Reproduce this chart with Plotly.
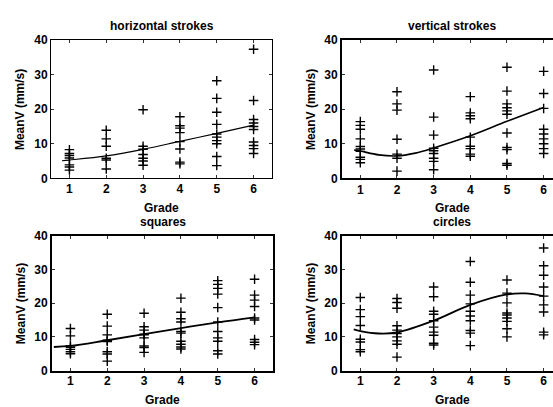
import plotly.graph_objects as go

W, H = 553, 407
grades = [1, 2, 3, 4, 5, 6]
grade_ticks = ["1", "2", "3", "4", "5", "6"]
y_ticks = [0, 10, 20, 30, 40]

horizontal_vals = [
    [8.3, 7.2, 6.6, 5.9, 3.9, 3.3, 2.4],
    [13.9, 11.4, 9.3, 5.8, 5.3, 2.7],
    [19.8, 9.3, 8.4, 6.9, 5.8, 5.0, 3.8],
    [17.8, 15.2, 14.5, 13.2, 10.6, 8.5, 4.7, 4.2],
    [28.2, 23.1, 19.1, 15.6, 12.8, 11.9, 10.9, 10.0, 6.3, 3.7],
    [37.3, 22.5, 17.0, 16.0, 15.0, 14.1, 10.5, 9.5, 8.6, 7.2],
]
vertical_vals = [
    [16.4, 15.3, 14.2, 11.4, 9.2, 8.5, 7.8, 6.1, 5.5, 4.5],
    [25.0, 21.5, 19.7, 11.3, 7.0, 5.8, 2.1],
    [31.3, 17.7, 12.5, 8.7, 8.0, 7.2, 5.8, 4.9, 2.5],
    [23.6, 18.9, 18.1, 17.2, 11.9, 9.3, 8.6, 7.0, 6.4],
    [32.1, 25.2, 21.5, 20.4, 19.5, 18.5, 13.1, 8.9, 8.3, 4.3, 3.8],
    [30.9, 24.5, 20.2, 14.2, 12.8, 11.4, 10.0, 8.6, 7.2],
]
squares_vals = [
    [12.5, 10.3, 7.4, 6.9, 6.3, 5.6, 5.0],
    [16.7, 13.2, 10.6, 9.0, 8.6, 5.6, 4.9, 2.8],
    [17.0, 13.0, 12.0, 10.8, 10.6, 9.7, 7.3, 6.8, 5.4],
    [21.5, 17.3, 15.4, 14.4, 11.6, 11.1, 8.7, 7.8, 7.0, 6.4],
    [26.7, 25.6, 24.4, 22.7, 18.7, 14.4, 11.6, 9.7, 8.7, 5.9, 4.9],
    [27.1, 22.4, 20.9, 19.0, 15.6, 15.0, 9.2, 8.4, 7.7],
]
circles_vals = [
    [21.7, 18.1, 16.0, 13.4, 9.3, 8.5, 6.2, 5.6],
    [21.4, 20.2, 18.5, 13.3, 12.0, 11.0, 10.0, 8.8, 7.8, 4.0],
    [24.8, 21.9, 17.6, 16.7, 14.8, 12.9, 11.4, 10.5, 8.1, 7.6],
    [32.4, 26.2, 22.4, 19.8, 17.6, 16.2, 14.8, 11.9, 11.1, 7.4],
    [26.9, 23.0, 20.1, 17.1, 16.5, 15.6, 14.6, 12.4, 10.0],
    [36.4, 31.1, 28.3, 24.8, 22.1, 19.5, 17.4, 11.4, 10.6],
]

# fitted trend curves
horizontal_fit_x = [0.8, 1, 2, 3, 4, 5, 6]
horizontal_fit_y = [5.1, 5.3, 6.5, 8.4, 10.7, 13.0, 15.4]
vertical_fit_x = [0.83, 1, 1.5, 2, 2.5, 3, 4, 5, 6]
vertical_fit_y = [8.2, 7.9, 6.8, 6.5, 7.3, 8.8, 12.3, 16.5, 20.5]
squares_fit_x = [0.55, 1, 2, 3, 4, 5, 6]
squares_fit_y = [7.0, 7.3, 9.0, 10.8, 12.6, 14.3, 15.8]
circles_fit_x = [0.82, 1, 1.5, 2, 3, 4, 5, 5.5, 6]
circles_fit_y = [12.2, 11.7, 11.0, 11.3, 14.8, 19.5, 22.6, 22.9, 22.1]

panel_titles = ["horizontal strokes", "vertical strokes", "squares", "circles"]
x_title = "Grade"
y_title = "MeanV (mm/s)"

FONT = "Liberation Sans, Arial, Helvetica, sans-serif"

def fx(px):
    return px / W

def fy(py):
    return 1 - py / H

# layout geometry (pixels)
panels = [
    dict(vals=horizontal_vals, fx_=horizontal_fit_x, fy_=horizontal_fit_y,
         x0=51, x1=272, y0=34, y1=177.5, xr=[0.5, 6.5], lw=1.0, cw=1.2, xt=199, sx=-1),
    dict(vals=vertical_vals, fx_=vertical_fit_x, fy_=vertical_fit_y,
         x0=342, x1=553, y0=34, y1=177.5, xr=[0.5, 6.5 - 9 / 36.8], lw=2.0, cw=1.6, xt=199, sx=-1),
    dict(vals=squares_vals, fx_=squares_fit_x, fy_=squares_fit_y,
         x0=52, x1=273, y0=237, y1=376.5, xr=[0.5, 6.5], lw=2.0, cw=1.8, xt=398, sx=-2),
    dict(vals=circles_vals, fx_=circles_fit_x, fy_=circles_fit_y,
         x0=342, x1=553, y0=237, y1=376.5, xr=[0.5, 6.5 - 9 / 36.8], lw=2.0, cw=1.8, xt=398, sx=-2),
]

fig = go.Figure()
annotations = []
for i, p in enumerate(panels):
    n = i + 1
    xa = "x" if n == 1 else f"x{n}"
    ya = "y" if n == 1 else f"y{n}"
    xs, ys = [], []
    for g, vals in zip(grades, p["vals"]):
        for v in vals:
            xs.append(g)
            ys.append(v)
    fig.add_trace(go.Scatter(
        x=xs, y=ys, mode="markers", xaxis=xa, yaxis=ya, showlegend=False,
        marker=dict(symbol="cross-thin", size=6.8, line=dict(color="black", width=1.4)),
    ))
    fig.add_trace(go.Scatter(
        x=p["fx_"], y=p["fy_"], mode="lines", xaxis=xa, yaxis=ya, showlegend=False,
        line=dict(color="black", width=p["cw"], shape="spline", smoothing=1.0),
    ))
    right_clipped = p["x1"] >= W
    common = dict(showgrid=False, zeroline=False, showline=True, linecolor="black",
                  linewidth=p["lw"], ticks="inside", ticklen=3, tickwidth=1,
                  tickcolor="#333",
                  tickfont=dict(family=FONT, size=12, color="black", weight="bold"))
    fig.update_layout(**{
        ("xaxis" if n == 1 else f"xaxis{n}"): dict(
            domain=[fx(p["x0"]), fx(p["x1"])], range=p["xr"], anchor=ya,
            tickvals=grades, ticktext=grade_ticks, mirror="allticks",
            ticklabelstandoff=p["sx"], **common),
        ("yaxis" if n == 1 else f"yaxis{n}"): dict(
            domain=[fy(p["y1"]), fy(p["y0"])], range=[0, 40], anchor=xa,
            tickvals=y_ticks, ticktext=[str(t) for t in y_ticks],
            mirror=(False if right_clipped else "allticks"),
            ticklabelstandoff=0, **common),
    })
    cx = (p["x0"] + (p["x1"] if not right_clipped else 562)) / 2
    cy = (p["y0"] + p["y1"]) / 2
    title_y = p["y0"] - 14
    annotations.append(dict(text=panel_titles[i], x=fx(cx), y=fy(title_y),
                            xref="paper", yref="paper", showarrow=False,
                            xanchor="center", yanchor="middle",
                            font=dict(family=FONT, size=12, color="black", weight="bold")))
    annotations.append(dict(text=x_title, x=fx(cx), y=fy(p["xt"]),
                            xref="paper", yref="paper", showarrow=False,
                            xanchor="center", yanchor="top",
                            font=dict(family=FONT, size=12, color="black", weight="bold")))
    annotations.append(dict(text=y_title, x=fx(p["x0"] - 31), y=fy(cy + 1),
                            xref="paper", yref="paper", showarrow=False, textangle=-90,
                            xanchor="center", yanchor="middle",
                            font=dict(family=FONT, size=12, color="black", weight="bold")))

fig.update_layout(
    width=W, height=H, margin=dict(l=0, r=0, t=0, b=0),
    paper_bgcolor="white", plot_bgcolor="white",
    annotations=annotations,
)
fig.write_html("out.html")
